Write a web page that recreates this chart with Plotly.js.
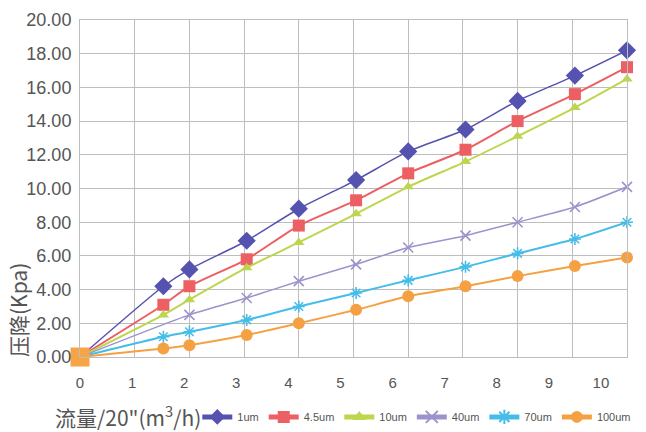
<!DOCTYPE html>
<html>
<head>
<meta charset="utf-8">
<script src="https://cdn.plot.ly/plotly-3.0.1.min.js"></script>
<style>html,body{margin:0;padding:0;background:#fff;}#chart{width:646px;height:432px;}</style>
</head>
<body>
<div id="chart"></div>
<script>
// Flow (m3/h) for a 20" element
const flowAll = [0, 1.6, 2.1, 3.2, 4.2, 5.3, 6.3, 7.4, 8.4, 9.5, 10.5];
const flow40 = [0, 2.1, 3.2, 4.2, 5.3, 6.3, 7.4, 8.4, 9.5, 10.5];
// Pressure drop (Kpa)
const dp1um   = [0, 4.2, 5.2, 6.9, 8.8, 10.5, 12.2, 13.5, 15.2, 16.7, 18.2];
const dp45um  = [0, 3.1, 4.2, 5.8, 7.8, 9.3, 10.9, 12.3, 14.0, 15.6, 17.2];
const dp10um  = [0, 2.5, 3.4, 5.3, 6.8, 8.5, 10.1, 11.6, 13.1, 14.8, 16.5];
const dp40um  = [0, 2.5, 3.5, 4.5, 5.5, 6.5, 7.2, 8.0, 8.9, 10.1];
const dp70um  = [0, 1.2, 1.5, 2.2, 3.0, 3.8, 4.55, 5.35, 6.15, 7.0, 8.0];
const dp100um = [0, 0.5, 0.7, 1.3, 2.0, 2.8, 3.6, 4.2, 4.8, 5.4, 5.9];
const originX = [0];
const originY = [0];
const seriesNames = ['1um', '4.5um', '10um', '40um', '70um', '100um'];
const xTickVals = [0,1,2,3,4,5,6,7,8,9,10];
const yTickVals = [0,2,4,6,8,10,12,14,16,18,20];

const colors = ['#5552b0', '#ec5f62', '#bcd64e', '#9d93cc', '#45bde8', '#f5a143'];
const symbols = ['diamond', 'square', 'triangle-up', 'x-thin-open', 'asterisk-open', 'circle'];
const sizes = [14, 12, 10, 10, 10, 12];
const widths = [1.5, 2, 2, 1.5, 2, 2];
const xs = [flowAll, flowAll, flowAll, flow40, flowAll, flowAll];
const ys = [dp1um, dp45um, dp10um, dp40um, dp70um, dp100um];

const traces = seriesNames.map((n, i) => ({
  type: 'scatter', mode: 'lines+markers', name: n,
  x: xs[i], y: ys[i],
  line: {color: colors[i], width: widths[i], shape: 'spline', smoothing: 0.6},
  marker: {symbol: symbols[i], size: sizes[i], color: colors[i], line: {color: colors[i], width: (i===3||i===4)?1.6:0}},
  cliponaxis: false
}));
traces.push({
  type: 'scatter', mode: 'markers', x: originX, y: originY, showlegend: false,
  marker: {symbol: 'square', size: 19, color: '#f6a444'}, cliponaxis: false, hoverinfo: 'skip'
});

const gridC = '#bdbdbd';
const layout = {
  width: 646, height: 432,
  margin: {l: 80, r: 19, t: 20, b: 75, autoexpand: false},
  paper_bgcolor: '#fff', plot_bgcolor: '#fff',
  showlegend: true,
  legend: {orientation: 'h', xref: 'container', yref: 'container', x: 0.985, xanchor: 'right', y: 0.035, yanchor: 'middle',
           font: {family: 'Liberation Sans, Arial, sans-serif', size: 11, color: '#555'},
           itemwidth: 30, itemsizing: 'constant',
           tracegroupgap: 0, traceorder: 'normal', bgcolor: 'rgba(0,0,0,0)'},
  xaxis: {
    range: [0, 10.5], tickvals: xTickVals, ticktext: xTickVals.map(String),
    showgrid: false, zeroline: false, ticks: '',
    showline: true, mirror: true, linecolor: gridC, linewidth: 1,
    tickfont: {family: 'Liberation Sans, Arial, sans-serif', size: 15, color: '#555'},
    ticklabelstandoff: 12,
    minor: {dtick: 1.05, tick0: 0, showgrid: true, gridcolor: gridC, gridwidth: 1, ticks: ''}
  },
  yaxis: {
    range: [0, 20], tickvals: yTickVals, tickformat: '.2f',
    showgrid: true, gridcolor: gridC, gridwidth: 1, zeroline: false, ticks: '',
    showline: true, mirror: true, linecolor: gridC, linewidth: 1,
    tickfont: {family: 'Liberation Sans, Arial, sans-serif', size: 18, color: '#555'},
    ticklabelstandoff: 4
  },
  annotations: [
    {text: '压降(Kpa)', xref: 'paper', yref: 'paper', x: -0.113, y: 0.14, textangle: -90,
     showarrow: false, xanchor: 'center', yanchor: 'middle',
     font: {family: 'Noto Sans CJK SC, sans-serif', size: 21, color: '#555'}},
    {text: '流量/20"(m<sup>3</sup>/h)', xref: 'paper', yref: 'paper', x: 0.088, y: -0.175,
     showarrow: false, xanchor: 'center', yanchor: 'middle',
     font: {family: 'Noto Sans CJK SC, sans-serif', size: 21, color: '#555'}}
  ]
};
Plotly.newPlot('chart', traces, layout, {displayModeBar: false, staticPlot: true});
</script>
</body>
</html>
